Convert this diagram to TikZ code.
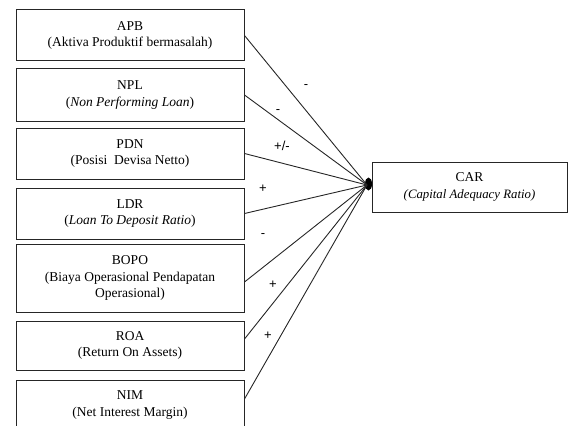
\documentclass[tikz,border=0pt]{standalone}
\usepackage{fontspec}
\setmainfont{Liberation Serif}
\newfontfamily\tandafont{Liberation Sans}
\usetikzlibrary{positioning}

\tikzset{
    kotak/.style={draw=black!85, line width=1pt, minimum width=228pt, align=center,
        font=\fontsize{13.5}{16.5}\selectfont, inner sep=0pt},
    panah/.style={draw=black!85, line width=0.9pt},
    tanda/.style={font=\tandafont\fontsize{13}{13}\selectfont}
}

\begin{document}
\begin{tikzpicture}[x=1pt, y=-1pt]
    \useasboundingbox (0,0) rectangle (569,425);
    \clip (0,0) rectangle (569,425);

    % Kotak variabel independen
    \node[kotak, minimum height=51pt] (apb) at (130,35.5) {APB\\(Aktiva Produktif bermasalah)};
    \node[kotak, minimum height=52pt] (npl) at (130,95) {NPL\\(\textit{Non Performing Loan})};
    \node[kotak, minimum height=51pt] (pdn) at (130,153.5) {PDN\\(Posisi\ \ Devisa Netto)};
    \node[kotak, minimum height=51pt] (ldr) at (130,213.5) {LDR\\(\textit{Loan To Deposit Ratio})};
    \node[kotak, minimum height=68pt] (bopo) at (130,278) {BOPO\\(Biaya Operasional Pendapatan\\Operasional)};
    \node[kotak, minimum height=49pt] (roa) at (130,345.5) {ROA\\(Return On Assets)};
    \node[kotak, minimum height=50pt] (nim) at (130,405) {NIM\\(Net Interest Margin)};

    % Kotak variabel dependen
    \node[kotak, minimum width=195pt, minimum height=50pt] (car) at (469.5,187)
        {CAR\\{\fontsize{12.8}{15}\selectfont\textit{(Capital Adequacy Ratio)}}};

    % Titik temu garis
    \coordinate (pusat) at (367,185);
    \fill[black] (368.5,184) ellipse [x radius=3.5pt, y radius=6.5pt];

    % Garis hubungan
    \draw[panah] (apb.east) -- (pusat);
    \draw[panah] (npl.east) -- (pusat);
    \draw[panah] (pdn.east) -- (pusat);
    \draw[panah] (ldr.east) -- (pusat);
    \draw[panah] ([yshift=-4pt]bopo.east) -- (pusat);
    \draw[panah] ([yshift=6.5pt]roa.east) -- (pusat);
    \draw[panah] ([yshift=6pt]nim.east) -- (pusat);

    % Tanda pengaruh
    \node[tanda] (t1) at (306,87) {-};
    \node[tanda] (t2) at (278,112) {-};
    \node[tanda] (t3) at (282,146) {+/-};
    \node[tanda] (t4) at (263,189) {+};
    \node[tanda] (t5) at (263,236) {-};
    \node[tanda] (t6) at (273,285) {+};
    \node[tanda] (t7) at (268,336) {+};
\end{tikzpicture}
\end{document}
